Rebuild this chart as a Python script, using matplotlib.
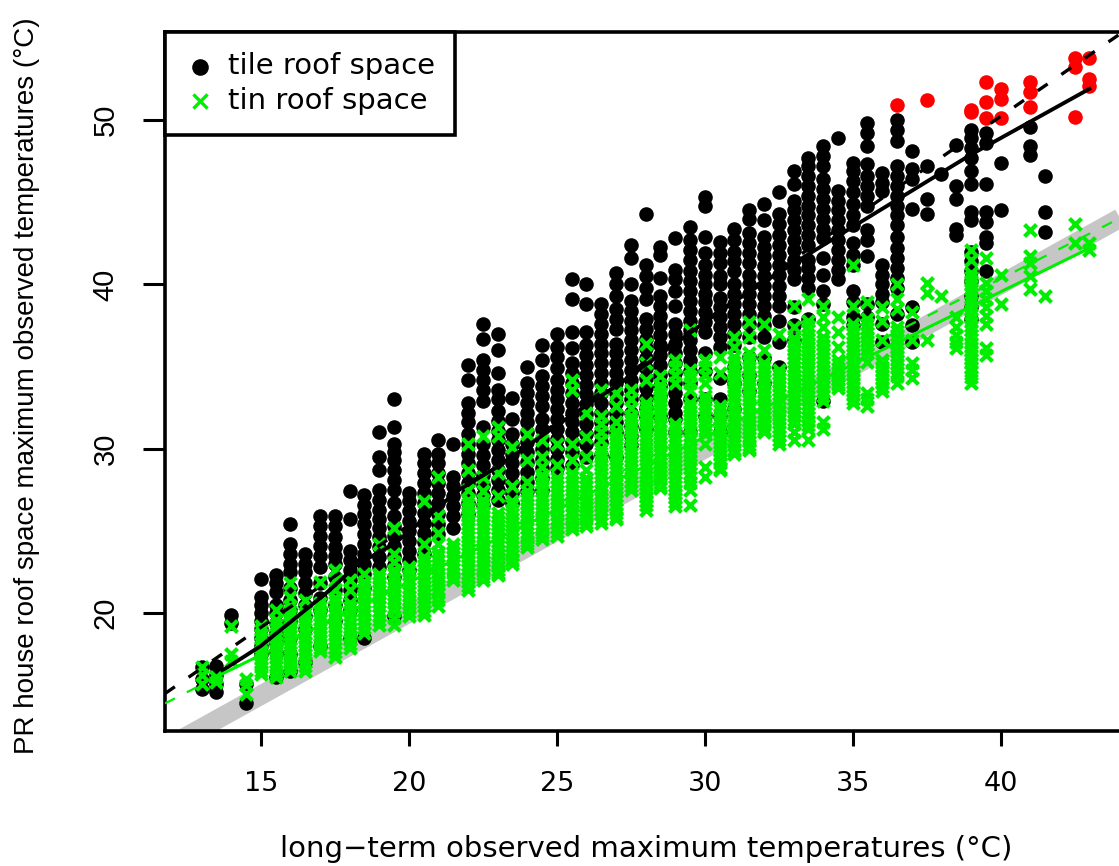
import matplotlib
matplotlib.use("Agg")
import matplotlib.pyplot as plt

plt.rcParams['font.family'] = ['Liberation Sans', 'DejaVu Sans']

tile_columns = [
 (13,[16.7,16.0,15.4]),
 (13.5,[16.8,16.2,15.7,15.2]),
 (14,[19.9,19.4]),
 (14.5,[15.7,14.5]),
 (15,[22.1,21.0,20.5,20.0,19.5,19.0,18.5,18.0,17.5]),
 (15.5,[22.3,21.8,21.3,20.5,20.0,19.4,18.8,18.2,17.6,16.1]),
 (16,[25.4,24.2,23.6,23.0,22.5,21.5,20.8,20.2,19.5,18.5,17.5,16.5]),
 (16.5,[23.6,23.0,22.5,21.8,21.2,20.5,19.8,19.0,17.0]),
 (17,[25.9,25.3,24.7,24.1,23.5,22.8,21.8,20.9,20.2,18.0]),
 (17.5,[25.9,25.3,24.6,24.0,23.5,23.0,22.2,21.4,20.5,19.5]),
 (18,[27.4,25.7,23.8,23.2,22.6,22.0,21.4,20.8,20.2,18.5]),
 (18.5,[27.2,26.6,26.0,25.4,24.8,24.2,23.6,23.0,22.4,21.5,18.5]),
 (19,[31.0,29.5,28.7,27.5,26.9,26.3,25.7,25.2,24.6,24.0,23.4,22.8]),
 (19.5,[33.0,31.3,30.3,29.8,29.3,28.7,28.1,27.5,26.7,25.9,25.3,24.7,24.1,23.5,22.9,22.2,19.8]),
 (20,[27.3,26.8,26.2,25.6,25.0,24.4,23.8,23.2,22.6]),
 (20.5,[29.7,29.1,28.5,27.9,27.3,26.7,26.1,25.5,24.9,24.3,23.6]),
 (21,[30.5,29.7,29.1,28.5,27.9,27.3,26.7,26.0,25.4,24.8]),
 (21.5,[30.3,28.3,27.7,27.1,26.5,25.9,25.2]),
 (22,[35.1,34.2,32.8,32.2,31.6,30.9,30.3,29.7,29.1,28.5,27.9,27.3,26.7,26.0]),
 (22.5,[37.6,36.7,35.4,34.8,34.2,33.6,32.9,31.3,30.3,29.6,29.0,28.4,27.8,27.2,26.6]),
 (23,[37.0,36.0,34.6,33.6,33.0,32.3,31.7,31.1,30.5,29.9,29.3,28.7,28.1,27.5,26.9]),
 (23.5,[33.1,31.8,30.9,30.3,29.7,29.1,28.5,27.9,27.3,26.7]),
 (24,[35.0,34.0,33.4,32.8,32.2,31.6,31.0,30.4,29.8,29.2,28.6,28.0,27.4]),
 (24.5,[36.3,35.4,34.4,33.8,33.2,32.6,31.8,31.2,30.6,30.0,29.4,28.8,28.2,27.5]),
 (25,[37.0,36.2,35.6,34.9,34.2,33.6,33.0,32.4,31.8,31.2,30.6,30.0,29.4,28.8]),
 (25.5,[40.3,39.1,37.1,36.1,35.2,34.6,34.0,33.4,32.8,32.2,31.6,31.0,30.4,29.8,29.0]),
 (26,[40.0,38.8,37.1,36.3,35.7,35.1,34.5,33.9,33.3,32.7,32.1,31.5,30.9,30.3,29.5]),
 (26.5,[38.8,38.2,37.6,37.0,36.4,35.8,35.2,34.6,34.0,33.4,32.8,32.2,31.6,31.0,30.4,29.6]),
 (27,[40.7,40.0,39.3,38.5,37.9,37.3,36.4,35.8,35.2,34.6,34.0,33.4,32.8,32.2,31.6,31.0,29.5]),
 (27.5,[42.4,41.6,40.0,39.0,38.4,37.8,37.2,36.6,36.0,35.4,34.8,34.2,33.6,33.0,32.2,31.4,30.8,30.2]),
 (28,[44.3,41.2,40.5,39.8,39.1,37.9,37.3,36.7,36.1,35.5,34.9,34.3,33.7,33.1,32.5,31.9,31.2]),
 (28.5,[42.3,41.8,40.4,39.3,38.7,38.1,37.5,36.9,36.3,35.7,35.1,34.5,33.8,33.2,32.0]),
 (29,[42.8,40.9,40.3,39.6,38.7,37.6,37.0,36.4,35.8,35.2,34.6,34.0,33.4,32.8,32.2,31.8,31.0]),
 (29.5,[43.5,42.7,42.1,41.5,40.8,40.2,39.6,39.0,38.4,37.8,37.2,36.6,36.0,35.4,34.7,34.0,33.0,31.0]),
 (30,[45.3,44.8,42.9,41.9,41.2,40.6,40.0,39.4,38.9,38.3,37.7,37.1,35.8,34.7,33.0,32.0]),
 (30.5,[42.6,41.9,41.3,40.5,40.0,39.2,38.6,38.0,37.4,36.8,36.2,34.3,33.0,32.0,31.0]),
 (31,[43.4,42.7,42.0,41.4,40.8,40.0,39.4,38.8,38.2,37.6,37.0,36.3,35.0,34.0,32.4]),
 (31.5,[44.5,44.0,43.1,42.5,41.9,41.3,40.6,40.0,39.4,38.8,38.2,37.6,36.8,35.6,34.5,33.5]),
 (32,[44.9,43.9,42.9,42.3,41.7,41.1,40.5,39.9,39.3,38.7,38.1,37.5,36.8,35.5,34.0]),
 (32.5,[45.6,44.3,43.7,43.0,42.4,41.8,41.2,40.6,39.9,39.3,38.7,37.8,36.5,35.0]),
 (33,[46.9,46.1,45.1,44.5,43.9,43.3,42.7,42.1,41.5,40.9,40.3,38.6,37.5,36.6]),
 (33.5,[47.7,47.2,46.6,46.0,45.4,44.8,44.2,43.6,43.0,42.4,41.5,41.0,40.4,39.8,37.9]),
 (34,[48.4,47.8,47.2,46.4,45.8,45.2,44.6,44.0,43.4,42.8,41.6,40.6,39.6,38.8,32.9]),
 (34.5,[48.9,45.7,45.1,44.5,43.9,43.3,42.7,42.1,41.5,40.9,40.3]),
 (35,[47.4,46.9,46.3,45.6,44.9,44.2,43.6,42.5,41.8,41.2,39.6,38.9,38.0,37.5]),
 (35.5,[49.8,49.2,48.4,47.3,46.6,46.0,45.4,44.8,43.3,42.7,41.7,38.8,38.0]),
 (36,[46.8,46.2,45.7,41.2,40.6,40.0,39.4,38.9,37.6,36.5]),
 (36.5,[50.0,49.4,48.7,47.2,46.6,46.0,45.4,44.8,44.2,43.6,42.9,42.2,41.6,41.0,40.4,39.8,38.2]),
 (37,[48.1,47.0,46.4,44.6,38.6,37.5,36.5]),
 (37.5,[47.2,45.2,44.3]),
 (38,[46.7]),
 (38.5,[48.5,46.0,45.2,43.4,43.0]),
 (39,[49.4,48.9,48.3,47.7,46.9,46.1,44.4,43.9,42.0,41.4,40.8,40.2,39.3,38.6,37.9]),
 (39.5,[49.2,48.6,46.1,44.4,43.8,42.9,42.5,40.8]),
 (40,[47.4,44.5]),
 (41,[49.6,48.4,47.9]),
 (41.5,[46.6,44.4,43.2]),
]

hot_x = [36.5, 37.5, 39, 39, 39.5, 39.5, 39.5, 40, 40, 40, 41, 41, 41, 42.5, 42.5, 42.5, 43, 43, 43]
hot_y = [50.9, 51.2, 50.6, 50.5, 52.3, 51.1, 50.1, 51.9, 51.3, 50.1, 52.3, 51.7, 50.8, 53.8, 53.2, 50.2, 53.8, 52.5, 52.1]

tin_columns = [
 (13,[16.7,16.2,15.7]),
 (13.5,[16.1,15.8]),
 (14,[19.2,17.5,17.1]),
 (14.5,[16.0,15.6,15.1]),
 (15,[19.2,18.7,18.2,17.7,17.2,16.7,16.3]),
 (15.5,[20.2,19.6,19.0,18.5,18.0,17.5,17.0,16.5,16.1]),
 (16,[21.8,21.0,20.4,19.9,19.4,18.9,18.4,17.9,17.4,16.9,16.5]),
 (16.5,[20.8,20.0,19.5,19.0,18.5,18.0,17.5,17.0,16.5]),
 (17,[21.9,20.6,20.1,19.6,19.1,18.6,18.1,17.7]),
 (17.5,[22.6,22.0,21.4,20.9,20.4,19.9,19.4,18.9,18.4,17.9,17.3]),
 (18,[22.0,21.4,20.6,20.1,19.6,19.1,18.6,18.1,17.9]),
 (18.5,[22.4,21.9,21.4,20.9,20.4,19.9,19.4,18.8]),
 (19,[24.2,22.4,21.9,21.4,20.9,20.4,19.9,19.3]),
 (19.5,[25.2,23.6,23.1,22.6,22.1,21.6,21.1,20.6,20.1,19.3]),
 (20,[22.8,22.3,21.8,21.3,20.8,20.3,19.8]),
 (20.5,[26.8,24.2,23.4,22.9,22.4,21.9,21.4,20.9,20.4,19.9]),
 (21,[28.3,25.9,24.9,24.2,23.7,23.2,22.7,22.2,21.7,21.2,20.4]),
 (21.5,[24.2,23.7,23.2,22.7,22.2,22.0]),
 (22,[30.3,28.7,27.5,26.9,26.4,25.9,25.4,24.9,24.4,23.9,23.4,22.9,22.4,21.9,21.4]),
 (22.5,[30.8,28.3,27.4,26.9,26.4,25.9,25.4,24.9,24.4,23.9,23.4,22.9,22.4,22.0]),
 (23,[31.3,30.8,28.5,27.1,26.1,25.6,25.1,24.6,24.1,23.6,23.1,22.6,22.3]),
 (23.5,[30.1,27.7,26.8,26.3,25.8,25.3,24.8,24.3,23.8,23.3,23.0]),
 (24,[30.9,29.3,28.0,27.4,26.9,26.4,25.9,25.4,24.9,24.4,24.0]),
 (24.5,[30.5,29.5,28.9,28.4,27.9,27.4,26.9,26.4,25.9,25.4,24.9,24.5]),
 (25,[30.3,29.0,28.2,27.7,27.2,26.7,26.2,25.7,25.2,24.7]),
 (25.5,[34.2,33.6,30.3,29.3,28.5,28.0,27.5,27.0,26.5,26.0,25.5,25.1]),
 (26,[32.2,30.7,29.5,28.7,28.2,27.7,27.2,26.7,26.2,25.7,25.3]),
 (26.5,[33.6,32.0,31.5,31.0,30.5,30.0,29.5,29.0,28.5,28.0,27.5,27.0,26.5,26.0,25.5]),
 (27,[33.4,32.6,31.6,31.1,30.6,30.1,29.6,29.1,28.6,28.1,27.6,27.1,26.6,26.1,25.7]),
 (27.5,[33.6,33.0,32.5,32.0,31.5,31.0,30.5,30.0,29.5,29.0,28.5,28.0,27.5]),
 (28,[36.4,35.2,34.2,32.8,32.3,31.8,31.3,30.8,30.3,29.8,29.3,28.8,28.3,27.8,27.3,26.8,26.3]),
 (28.5,[34.4,33.9,33.4,32.9,32.4,31.9,31.4,30.9,30.4,29.9,29.4,28.9,28.4,27.9,27.6]),
 (29,[35.4,35.0,34.5,34.0,31.5,31.0,30.5,30.0,29.5,29.0,28.5,28.0,27.5,27.0,26.5]),
 (29.5,[37.2,34.8,34.4,34.0,33.6,32.8,32.3,31.8,31.3,30.8,30.3,29.8,29.3,28.8,28.3,27.9,27.5,26.6]),
 (30,[35.4,35.0,34.5,34.0,33.2,32.7,32.2,31.7,31.2,30.9,30.3,28.9,28.3]),
 (30.5,[35.6,34.6,32.6,32.1,31.6,31.1,30.6,30.1,29.6,29.1,28.7]),
 (31,[36.8,36.2,35.6,35.0,34.5,34.0,33.5,33.0,32.5,32.0,31.5,31.0,30.5,30.0,29.7]),
 (31.5,[37.7,36.8,35.8,35.2,34.7,34.2,33.7,33.2,32.7,32.2,31.7,31.2,30.7,30.2,29.9]),
 (32,[37.6,36.0,35.2,34.7,34.2,33.7,33.2,32.7,32.2,31.7,31.2,31.0]),
 (32.5,[37.0,34.8,34.3,33.8,33.3,32.8,32.3,31.8,31.3,30.8,30.3]),
 (33,[38.7,37.4,36.5,36.0,35.5,35.0,34.5,34.0,33.5,33.0,32.5,32.0,31.5,31.0,30.5]),
 (33.5,[39.1,37.8,37.2,36.7,36.2,35.7,35.2,34.7,34.2,33.7,33.2,32.7,32.2,31.7,31.2,30.5]),
 (34,[38.7,38.0,37.4,36.8,36.3,35.8,35.3,34.8,34.3,33.8,33.2,32.9,31.6,31.2]),
 (34.5,[38.0,37.1,36.2,35.4,34.9,34.4,34.0,33.7]),
 (35,[41.2,38.7,37.6,37.0,36.5,36.0,35.5,35.0,34.5,34.0,33.5,33.0,32.8]),
 (35.5,[38.9,37.9,37.3,36.8,36.3,35.8,35.3,33.4,33.0,32.6]),
 (36,[38.6,37.8,36.6,35.4,35.0,34.5,34.0,33.5]),
 (36.5,[40.0,39.1,38.5,37.4,36.9,36.4,35.9,35.4,34.9,34.4,34.0]),
 (37,[38.3,36.6,35.2,34.8,34.3]),
 (37.5,[40.1,39.5,36.6]),
 (38,[39.3]),
 (38.5,[38.0,37.4,36.9,36.5,36.1]),
 (39,[42.1,41.5,40.7,40.2,39.7,39.2,38.7,38.2,37.7,37.2,36.7,36.2,35.7,35.2,34.7,34.0]),
 (39.5,[41.6,40.1,39.6,39.1,38.6,38.1,37.6,36.1,35.7]),
 (40,[40.6,38.8]),
 (41,[43.3,41.7,41.3,40.5,39.7]),
 (41.5,[39.3]),
 (42.5,[43.7,42.5]),
 (43,[42.5,42.1]),
]

tin_dense_columns = [
 (15,[18.95,18.45,17.95,17.45,16.95,16.5]),
 (15.5,[19.3,18.75,18.25,17.75,17.25,16.75,16.3]),
 (16,[20.15,19.65,19.15,18.65,18.15,17.65,17.15,16.7]),
 (16.5,[19.75,19.25,18.75,18.25,17.75,17.25,16.75]),
 (17,[20.35,19.85,19.35,18.85,18.35,17.9]),
 (17.5,[20.65,20.15,19.65,19.15,18.65,18.15,17.6]),
 (18,[20.35,19.85,19.35,18.85,18.35]),
 (18.5,[21.65,21.15,20.65,20.15,19.65,19.1]),
 (19,[22.15,21.65,21.15,20.65,20.15,19.6]),
 (19.5,[22.35,21.85,21.35,20.85,20.35,19.7]),
 (20,[22.55,22.05,21.55,21.05,20.55,20.05]),
 (20.5,[23.15,22.65,22.15,21.65,21.15,20.65,20.15]),
 (21,[23.45,22.95,22.45,21.95,21.45,20.8]),
 (21.5,[23.95,23.45,22.95,22.45]),
 (22,[26.65,26.15,25.65,25.15,24.65,24.15,23.65,23.15,22.65,22.15,21.65]),
 (22.5,[26.65,26.15,25.65,25.15,24.65,24.15,23.65,23.15,22.65,22.2]),
 (23,[25.85,25.35,24.85,24.35,23.85,23.35,22.85,22.45]),
 (23.5,[26.55,26.05,25.55,25.05,24.55,24.05,23.55,23.15]),
 (24,[27.15,26.65,26.15,25.65,25.15,24.65,24.2]),
 (24.5,[28.15,27.65,27.15,26.65,26.15,25.65,25.15,24.7]),
 (25,[27.95,27.45,26.95,26.45,25.95,25.45,24.95]),
 (25.5,[28.25,27.75,27.25,26.75,26.25,25.75,25.3]),
 (26,[27.95,27.45,26.95,26.45,25.95,25.5]),
 (26.5,[29.75,29.25,28.75,28.25,27.75,27.25,26.75,26.25,25.75]),
 (27,[30.85,30.35,29.85,29.35,28.85,28.35,27.85,27.35,26.85,26.35,25.85]),
 (27.5,[31.75,31.25,30.75,30.25,29.75,29.25,28.75,28.25,27.75]),
 (28,[32.55,32.05,31.55,31.05,30.55,30.05,29.55,29.05,28.55,28.05,27.55,27.05,26.55]),
 (28.5,[33.65,33.15,32.65,32.15,31.65,31.15,30.65,30.15,29.65,29.15,28.65,28.15,27.75]),
 (29,[31.25,30.75,30.25,29.75,29.25,28.75,28.25,27.75,27.25,26.75]),
 (29.5,[32.55,32.05,31.55,31.05,30.55,30.05,29.55,29.05,28.55]),
 (30,[32.95,32.45,31.95,31.45,31.05]),
 (30.5,[32.35,31.85,31.35,30.85,30.35,29.85,29.35,28.85]),
 (31,[35.25,34.75,34.25,33.75,33.25,32.75,32.25,31.75,31.25,30.75,30.25,29.85]),
 (31.5,[35.45,34.95,34.45,33.95,33.45,32.95,32.45,31.95,31.45,30.95,30.45,30.05]),
 (32,[34.95,34.45,33.95,33.45,32.95,32.45,31.95,31.45,31.1]),
 (32.5,[34.55,34.05,33.55,33.05,32.55,32.05,31.55,31.05,30.55]),
 (33,[36.75,36.25,35.75,35.25,34.75,34.25,33.75,33.25,32.75,32.25,31.75]),
 (33.5,[37.45,36.95,36.45,35.95,35.45,34.95,34.45,33.95,33.45,32.95,32.45,31.95,31.45]),
 (34,[36.55,36.05,35.55,35.05,34.55,34.05,33.5]),
 (34.5,[35.15,34.65,34.2,33.85]),
 (35,[37.3,36.75,36.25,35.75,35.25,34.75,34.25,33.75,33.25]),
 (35.5,[37.6,37.05,36.55,36.05]),
 (36,[35.2,34.75,34.25,33.75]),
 (36.5,[37.15,36.65,36.15,35.65,35.15,34.65]),
 (39,[40.45,39.95,39.45,38.95,38.45,37.95,37.45,36.95,36.45,35.95,35.45,34.95,34.35]),
]

xlim = (11.76, 44.0)
ylim = (12.82, 55.36)
x_ticks = [15, 20, 25, 30, 35, 40]
y_ticks = [20, 30, 40, 50]

unity_x = [11.76, 44.5]
unity_y = [11.76, 44.5]
tile_fit_x = [13.7, 15, 16.1, 17.2, 18.3, 19.5, 21.7, 23, 24.9, 26.3, 27, 30.7, 32.4, 35, 39, 43]
tile_fit_y = [16.5, 18, 19.6, 21.2, 23, 24.2, 27.5, 28.9, 31.3, 33, 33.8, 38.6, 40.6, 43.5, 47.9, 51.9]
tile_ref_x = [11.76, 44.0]
tile_ref_y = [15.1, 55.2]
tin_fit_x = [13.7, 43]
tin_fit_y = [16.3, 42.2]
tin_ref_x = [11.76, 44.0]
tin_ref_y = [14.5, 44.0]

GREEN = '#00EE00'
HORIZ = ['DejaVu Sans']
DOT = 110
CROSS = 74
CROSS_LW = 3.0

fig = plt.figure(figsize=(11.19, 8.66), dpi=100)
ax = fig.add_axes([165/1119, 1-731/866, (1119-165)/1119, (731-32)/866])
ax.set_xlim(*xlim)
ax.set_ylim(*ylim)

ax.plot(unity_x, unity_y, color='#C6C6C6', lw=14, solid_capstyle='butt', zorder=1)

bx = [x for x, ys in tile_columns for _ in ys]
by = [y for _, ys in tile_columns for y in ys]
ax.scatter(bx, by, s=DOT, c='black', marker='o', linewidths=0, zorder=2)
ax.scatter(hot_x, hot_y, s=DOT, c='#FF0000', marker='o', linewidths=0, zorder=2)
all_tin = tin_columns + tin_dense_columns
gx = [x for x, ys in all_tin for _ in ys]
gy = [y for _, ys in all_tin for y in ys]
ax.scatter(gx, gy, s=CROSS, c=GREEN, marker='x', linewidths=CROSS_LW, zorder=3)

ax.plot(tile_ref_x, tile_ref_y, color='black', lw=2.4, dashes=(3.6, 5), zorder=4)
ax.plot(tin_ref_x, tin_ref_y, color=GREEN, lw=1.6, dashes=(5, 6), zorder=4)
ax.plot(tile_fit_x, tile_fit_y, color='black', lw=2.8, zorder=5)
ax.plot(tin_fit_x, tin_fit_y, color=GREEN, lw=2.2, zorder=5)

for s in ax.spines.values():
    s.set_linewidth(2.6)
ax.spines['right'].set_visible(False)

ax.set_xticks(x_ticks)
ax.set_yticks(y_ticks)
ax.tick_params(axis='x', direction='out', length=10.5, width=2.2, pad=18,
               labelsize=19.5, labelfontfamily='DejaVu Sans')
ax.tick_params(axis='y', direction='out', length=15.5, width=2.2, pad=17,
               labelsize=21, labelrotation=90)
for t in ax.get_yticklabels():
    t.set_va('center')

fig.text(646/1119, 1-849/866, 'long\u2212term observed maximum temperatures (\u00b0C)',
         ha='center', va='center', fontsize=21, family=HORIZ)
fig.text(27/1119, 1-386/866, 'PR house roof space maximum observed temperatures (\u00b0C)',
         ha='center', va='center', rotation=90, fontsize=20)

h1 = ax.scatter([], [], s=DOT*1.3, c='black', marker='o', linewidths=0)
h2 = ax.scatter([], [], s=CROSS*1.4, c=GREEN, marker='x', linewidths=2.4)
leg = ax.legend([h1, h2], ['tile roof space', 'tin roof space'], loc='upper left',
                bbox_to_anchor=(0, 1), borderaxespad=0, prop={'family': HORIZ, 'size': 21},
                fancybox=False, framealpha=1, edgecolor='black', borderpad=0.7,
                labelspacing=0.22, handletextpad=0.45, handlelength=1.0)
leg.get_frame().set_linewidth(2.6)
leg.set_zorder(10)

fig.savefig('out.png', dpi=100)
